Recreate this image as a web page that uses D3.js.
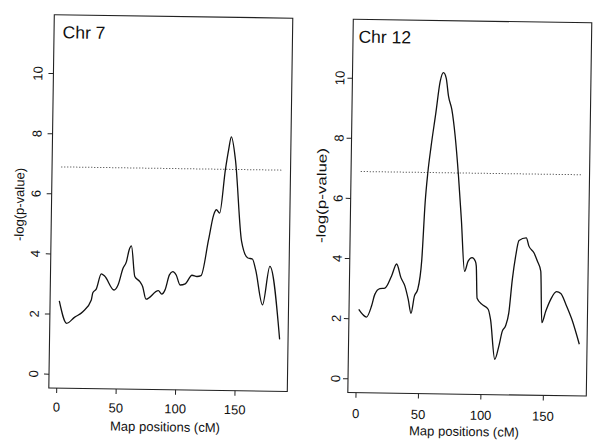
<!DOCTYPE html>
<html><head><meta charset="utf-8">
<script src="https://cdn.jsdelivr.net/npm/d3@7"></script>
<style>
body{margin:0;background:#fff}
svg{display:block}
text{font-family:"Liberation Sans",Arial,Helvetica,sans-serif;fill:#111}
</style>
</head><body>
<svg id="chart" width="600" height="448"></svg>
<script>
// ---- data ----
const chromosomes = ["Chr 7", "Chr 12"];
const chr7Pos  = [1.1,7.6,14.0,21.0,28.0,29.2,32.0,36.1,38.9,47.0,50.3,54.3,57.1,59.2,61.1,64.3,68.6,71.0,74.0,84.3,87.2,89.9,93.4,96.2,99.1,102.5,106.8,112.4,116.6,120.0,125.9,129.9,132.1,134.9,139.2,141.7,143.8,147.5,153.7,159.2,163.0,165.9,172.1,177.8,186.9];
const chr7LogP = [2.44,1.70,1.90,2.09,2.49,2.73,2.85,3.36,3.29,2.83,3.00,3.56,3.78,4.17,4.31,3.29,3.12,2.96,2.54,2.83,2.72,2.86,3.36,3.47,3.36,3.03,3.07,3.36,3.32,3.35,4.55,5.38,5.55,5.44,6.89,7.56,7.98,7.23,4.51,3.96,3.93,3.57,2.41,3.69,1.27];
const chr12Pos  = [1.2,7.5,11.4,13.9,17.9,21.9,27.1,31.0,34.6,37.9,40.7,43.1,45.6,48.2,51.1,53.1,54.9,57.2,60.6,63.7,66.3,68.5,70.6,73.4,76.4,79.5,82.3,85.5,88.2,91.3,94.0,94.8,95.8,99.9,104.8,106.8,110.7,113.8,116.4,118.9,121.4,123.8,126.2,128.7,134.5,136.7,140.8,143.7,146.5,147.9,151.0,154.8,159.3,162.8,167.0,172.0,178.2];
const chr12LogP = [2.31,2.06,2.43,2.82,3.01,3.03,3.44,3.84,3.39,3.11,2.67,2.21,2.78,3.01,4.00,5.89,6.89,7.77,8.88,9.93,10.23,10.05,9.44,9.00,8.11,6.79,5.35,3.63,3.97,4.09,3.97,3.81,2.74,2.54,2.38,2.05,0.72,1.16,1.66,1.83,2.28,3.38,4.16,4.68,4.77,4.50,4.28,4.00,3.67,1.96,2.35,2.74,3.00,2.94,2.58,2.08,1.26];
const thresholds = [6.9, 6.9];
const xTicks = [0, 50, 100, 150];
const yTicks = [0, 2, 4, 6, 8, 10];
const xLabel = "Map positions (cM)";
const yLabel = "-log(p-value)";

// ---- layout ----
const W = 238.5, H = 373.3, angle = 0.842;
const panels = [
  {title: chromosomes[0], pos: chr7Pos, val: chr7LogP, thr: thresholds[0],
   origin: [54.3, 14.7], xDomain: [-6.65, 194.0], titleX: 8.6, titleY: 23.5,
   yTickBase: -11.0, xTickBase: 396.8, yLabX: -27.5, yLabY: 190.2, yLabLen: 73},
  {title: chromosomes[1], pos: chr12Pos, val: chr12LogP, thr: thresholds[1],
   origin: [353.3, 19.3], xDomain: [-6.57, 184.4], titleX: 5.5, titleY: 23.3,
   yTickBase: -8.0, xTickBase: 398.6, yLabX: -24.7, yLabY: 176.7, yLabLen: 95}
];

const svg = d3.select("#chart");
const fs = 13;

panels.forEach(p => {
  const g = svg.append("g")
    .attr("transform", `translate(${p.origin[0]},${p.origin[1]}) rotate(${angle})`);
  const x = d3.scaleLinear().domain(p.xDomain).range([0, W]);
  const y = d3.scaleLinear().domain([-0.46, 11.96]).range([H, 0]);

  // box
  g.append("rect").attr("x", 0).attr("y", 0).attr("width", W).attr("height", H)
    .attr("fill", "none").attr("stroke", "#222").attr("stroke-width", 1.1);

  // y ticks
  yTicks.forEach(t => {
    g.append("line").attr("x1", 0).attr("x2", -5).attr("y1", y(t)).attr("y2", y(t))
      .attr("stroke", "#222").attr("stroke-width", 1);
    g.append("text").attr("transform", `translate(${p.yTickBase},${y(t)}) rotate(-90)`)
      .attr("text-anchor", "middle").style("font-size", fs + "px").text(t);
  });
  // x ticks
  xTicks.forEach(t => {
    g.append("line").attr("x1", x(t)).attr("x2", x(t)).attr("y1", H).attr("y2", H + 5)
      .attr("stroke", "#222").attr("stroke-width", 1);
    g.append("text").attr("x", x(t)).attr("y", p.xTickBase)
      .attr("text-anchor", "middle").style("font-size", fs + "px").text(t);
  });

  // axis labels
  g.append("text").attr("x", W / 2 - 2.5).attr("y", 415)
    .attr("text-anchor", "middle").style("font-size", fs + "px").text(xLabel);
  g.append("text").attr("transform", `translate(${p.yLabX},${p.yLabY}) rotate(-90)`)
    .attr("text-anchor", "middle").attr("textLength", p.yLabLen)
    .attr("lengthAdjust", "spacingAndGlyphs")
    .style("font-size", fs + "px").text(yLabel);

  // title
  g.append("text").attr("x", p.titleX).attr("y", p.titleY)
    .style("font-size", "17.5px").text(p.title);

  // threshold
  g.append("line")
    .attr("x1", x(d3.min(p.pos))).attr("x2", x(d3.max(p.pos)))
    .attr("y1", y(p.thr)).attr("y2", y(p.thr))
    .attr("stroke", "#333").attr("stroke-width", 1).attr("stroke-dasharray", "1 2");

  // curve
  const line = d3.line().x((d, i) => x(p.pos[i])).y(d => y(d)).curve(d3.curveMonotoneX);
  g.append("path").attr("d", line(p.val))
    .attr("fill", "none").attr("stroke", "#111").attr("stroke-width", 1.3)
    .attr("stroke-linejoin", "round");
});
</script>
</body></html>
